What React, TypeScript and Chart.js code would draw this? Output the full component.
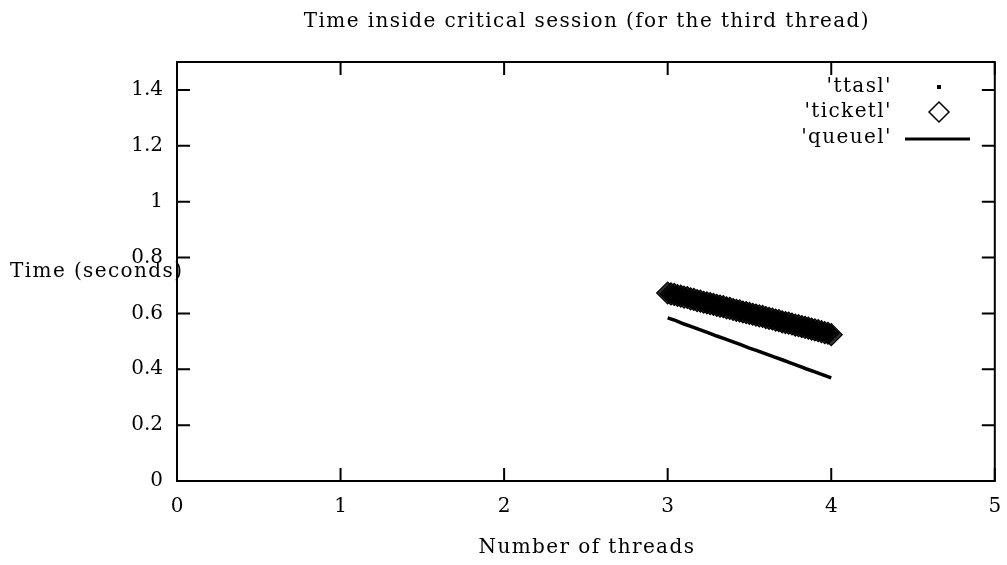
import React, { useEffect, useRef } from "react";
import { Chart, registerables } from "chart.js";

Chart.register(...registerables);

const TITLE = "Time inside critical session (for the third thread)";
const X_LABEL = "Number of threads";
const Y_LABEL = "Time (seconds)";
const SERIES_NAMES = ["'ttasl'", "'ticketl'", "'queuel'"];

const X_MIN = 0, X_MAX = 5, Y_MIN = 0, Y_MAX = 1.5;
const X_TICKS = [0, 1, 2, 3, 4, 5];
const Y_TICKS = [0, 0.2, 0.4, 0.6, 0.8, 1, 1.2, 1.4];

const ticketX = [3.00, 3.02, 3.04, 3.06, 3.08, 3.10, 3.12, 3.14, 3.16, 3.18, 3.20, 3.22, 3.24, 3.26, 3.28, 3.30, 3.32, 3.34, 3.36, 3.38, 3.40, 3.42, 3.44, 3.46, 3.48, 3.50, 3.52, 3.54, 3.56, 3.58, 3.60, 3.62, 3.64, 3.66, 3.68, 3.70, 3.72, 3.74, 3.76, 3.78, 3.80, 3.82, 3.84, 3.86, 3.88, 3.90, 3.92, 3.94, 3.96, 3.98, 4.00];
const ticketY = [0.673, 0.670, 0.668, 0.664, 0.662, 0.658, 0.657, 0.652, 0.650, 0.646, 0.644, 0.640, 0.638, 0.635, 0.632, 0.629, 0.626, 0.624, 0.620, 0.618, 0.614, 0.611, 0.609, 0.605, 0.603, 0.600, 0.597, 0.594, 0.591, 0.589, 0.585, 0.582, 0.580, 0.576, 0.574, 0.570, 0.567, 0.565, 0.562, 0.558, 0.556, 0.553, 0.550, 0.547, 0.544, 0.541, 0.538, 0.535, 0.531, 0.529, 0.524];

const ttasX = [3.0, 3.1, 3.2, 3.3, 3.4, 3.5, 3.6, 3.7, 3.8, 3.9, 4.0];
const ttasY = [0.668, 0.655, 0.641, 0.627, 0.612, 0.598, 0.584, 0.569, 0.554, 0.540, 0.522];

const queueX = [3.00, 3.05, 3.10, 3.15, 3.20, 3.25, 3.30, 3.35, 3.40, 3.45, 3.50, 3.55, 3.60, 3.65, 3.70, 3.75, 3.80, 3.85, 3.90, 3.95, 4.00];
const queueY = [0.584, 0.574, 0.562, 0.552, 0.541, 0.530, 0.519, 0.509, 0.498, 0.487, 0.476, 0.466, 0.455, 0.444, 0.434, 0.423, 0.412, 0.401, 0.391, 0.380, 0.369];

const FONT = "'DejaVu Serif', 'Liberation Serif', serif";
const FONT_SIZE = 20;

const pts = (xs: number[], ys: number[]) => xs.map((x, i) => ({ x, y: ys[i] }));

const framePlugin = {
  id: "gnuplotFrame",
  afterDraw(chart: any) {
    const { ctx, chartArea } = chart;
    const { left, right, top, bottom } = chartArea;
    const xs = chart.scales.x;
    const ys = chart.scales.y;
    ctx.save();
    ctx.strokeStyle = "#000";
    ctx.lineWidth = 2;
    ctx.strokeRect(left, top, right - left, bottom - top);
    const tl = 13;
    ctx.beginPath();
    X_TICKS.forEach((v) => {
      const px = xs.getPixelForValue(v);
      ctx.moveTo(px, bottom); ctx.lineTo(px, bottom - tl);
      ctx.moveTo(px, top); ctx.lineTo(px, top + tl);
    });
    Y_TICKS.forEach((v) => {
      const py = ys.getPixelForValue(v);
      ctx.moveTo(left, py); ctx.lineTo(left + tl, py);
      ctx.moveTo(right, py); ctx.lineTo(right - tl, py);
    });
    ctx.stroke();

    ctx.fillStyle = "#000";
    ctx.font = `${FONT_SIZE}px ${FONT}`;
    (ctx as any).letterSpacing = "1.4px";
    ctx.textBaseline = "middle";
    ctx.textAlign = "center";
    ctx.fillText(TITLE, (left + right) / 2 + 1, 22);
    ctx.fillText(X_LABEL, (left + right) / 2 + 1, 548);
    ctx.textAlign = "left";
    ctx.fillText(Y_LABEL, 10, 272);

    // legend
    const rows = [87, 112, 138];
    const textRight = 892;
    const sampleX = 939;
    ctx.textAlign = "right";
    SERIES_NAMES.forEach((n, i) => ctx.fillText(n, textRight, rows[i]));
    (ctx as any).letterSpacing = "0px";
    ctx.fillRect(sampleX - 2, rows[0] - 2, 4, 4);
    ctx.lineWidth = 1.5;
    ctx.beginPath();
    ctx.moveTo(sampleX - 10, rows[1]);
    ctx.lineTo(sampleX, rows[1] - 10);
    ctx.lineTo(sampleX + 10, rows[1]);
    ctx.lineTo(sampleX, rows[1] + 10);
    ctx.closePath();
    ctx.stroke();
    ctx.lineWidth = 3;
    ctx.beginPath();
    ctx.moveTo(905, rows[2] + 1);
    ctx.lineTo(970, rows[2] + 1);
    ctx.stroke();
    ctx.restore();
  },
};

export default function App() {
  const ref = useRef<HTMLCanvasElement>(null);
  useEffect(() => {
    if (!ref.current) return;
    const chart = new Chart(ref.current, {
      type: "scatter",
      data: {
        datasets: [
          {
            label: SERIES_NAMES[0],
            data: pts(ttasX, ttasY),
            pointStyle: "rect",
            pointRadius: 2,
            backgroundColor: "#000",
            borderColor: "#000",
            showLine: false,
          },
          {
            label: SERIES_NAMES[1],
            data: pts(ticketX, ticketY),
            pointStyle: "rectRot",
            pointRadius: 11,
            pointBorderWidth: 1.2,
            borderColor: "#000",
            backgroundColor: "rgba(0,0,0,0.8)",
            showLine: false,
          },
          {
            label: SERIES_NAMES[2],
            data: pts(queueX, queueY),
            showLine: true,
            borderColor: "#000",
            borderWidth: 3.5,
            pointRadius: 0,
            tension: 0,
          },
        ],
      },
      options: {
        animation: false,
        responsive: true,
        maintainAspectRatio: false,
        layout: { padding: { top: 62, right: 11, left: 0, bottom: 0 } },
        plugins: { legend: { display: false }, title: { display: false }, tooltip: { enabled: false } },
        scales: {
          x: {
            type: "linear",
            min: X_MIN,
            max: X_MAX,
            afterBuildTicks: (s: any) => { s.ticks = X_TICKS.map((v) => ({ value: v })); },
            afterFit: (s: any) => { s.height = 84; s.paddingLeft = 0; s.paddingRight = 0; },
            grid: { display: false, drawTicks: false },
            border: { display: false },
            ticks: { color: "#000", font: { family: FONT, size: FONT_SIZE }, padding: 14, maxRotation: 0, autoSkip: false },
          },
          y: {
            type: "linear",
            min: Y_MIN,
            max: Y_MAX,
            afterBuildTicks: (s: any) => { s.ticks = Y_TICKS.map((v) => ({ value: v })); },
            afterFit: (s: any) => { s.width = 177; s.paddingTop = 0; s.paddingBottom = 0; },
            grid: { display: false, drawTicks: false },
            border: { display: false },
            ticks: { color: "#000", font: { family: FONT, size: FONT_SIZE }, padding: 14, autoSkip: false, callback: (v: any) => String(Number(v)) },
          },
        },
      },
      plugins: [framePlugin],
    });
    return () => chart.destroy();
  }, []);
  return (
    <div style={{ position: "fixed", left: 0, top: 0, width: 1007, height: 565, background: "#fff" }}>
      <canvas ref={ref} />
    </div>
  );
}
